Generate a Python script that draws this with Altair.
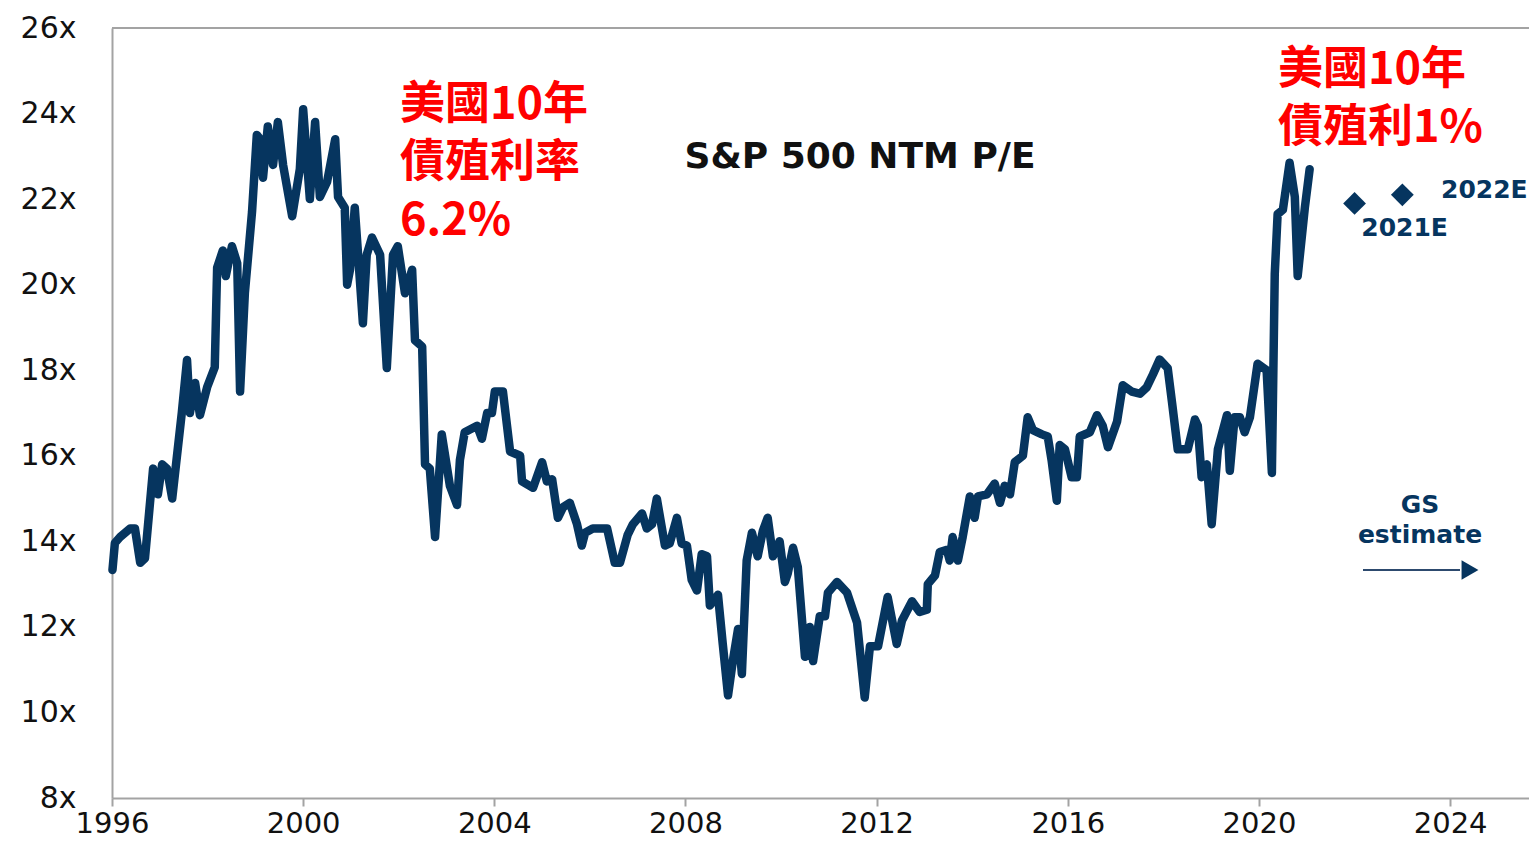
import altair as alt
import pandas as pd

# ---- data ----
years = [
    1996.01, 1996.06, 1996.17, 1996.38, 1996.48, 1996.59, 1996.69, 1996.86, 1996.96, 1997.05,
    1997.15, 1997.26, 1997.46, 1997.57, 1997.63, 1997.74, 1997.84, 1997.99, 1998.15, 1998.20,
    1998.32, 1998.38, 1998.51, 1998.62, 1998.68, 1998.78, 1998.93, 1999.03, 1999.10, 1999.16,
    1999.26, 1999.37, 1999.47, 1999.58, 1999.77, 1999.93, 2000.00, 2000.14, 2000.25, 2000.35,
    2000.50, 2000.67, 2000.73, 2000.87, 2000.92, 2000.98, 2001.08, 2001.25, 2001.33, 2001.44,
    2001.61, 2001.75, 2001.88, 2001.98, 2002.13, 2002.28, 2002.34, 2002.49, 2002.55, 2002.65,
    2002.76, 2002.90, 2003.07, 2003.22, 2003.28, 2003.38, 2003.64, 2003.74, 2003.85, 2003.95,
    2004.01, 2004.18, 2004.33, 2004.54, 2004.58, 2004.81, 2005.00, 2005.10, 2005.21, 2005.33,
    2005.44, 2005.58, 2005.73, 2005.83, 2005.90, 2006.06, 2006.36, 2006.52, 2006.63, 2006.79,
    2006.90, 2007.09, 2007.19, 2007.30, 2007.40, 2007.57, 2007.67, 2007.82, 2007.92, 2008.03,
    2008.13, 2008.24, 2008.34, 2008.45, 2008.51, 2008.68, 2008.78, 2008.89, 2008.99, 2009.10,
    2009.18, 2009.28, 2009.39, 2009.51, 2009.62, 2009.72, 2009.83, 2009.97, 2010.08, 2010.14,
    2010.25, 2010.35, 2010.50, 2010.60, 2010.67, 2010.81, 2010.92, 2010.98, 2011.17, 2011.38,
    2011.59, 2011.75, 2011.86, 2012.03, 2012.23, 2012.42, 2012.53, 2012.74, 2012.90, 2013.05,
    2013.07, 2013.22, 2013.32, 2013.47, 2013.53, 2013.59, 2013.70, 2013.80, 2013.95, 2014.05,
    2014.12, 2014.31, 2014.47, 2014.58, 2014.68, 2014.79, 2014.89, 2015.06, 2015.16, 2015.27,
    2015.46, 2015.58, 2015.66, 2015.77, 2015.83, 2015.94, 2016.08, 2016.19, 2016.25, 2016.46,
    2016.61, 2016.73, 2016.84, 2017.03, 2017.15, 2017.34, 2017.51, 2017.65, 2017.78, 2017.92,
    2018.09, 2018.18, 2018.30, 2018.51, 2018.66, 2018.72, 2018.80, 2018.91, 2019.01, 2019.14,
    2019.33, 2019.39, 2019.49, 2019.60, 2019.70, 2019.81, 2019.97, 2020.16, 2020.27, 2020.33,
    2020.39, 2020.50, 2020.64, 2020.75, 2020.81, 2020.96, 2021.06,
]
pe = [
    13.33, 13.96, 14.10, 14.30, 14.30, 13.50, 13.60, 15.70, 15.10, 15.80,
    15.70, 15.00, 17.00, 18.24, 17.00, 17.70, 16.95, 17.60, 18.07, 20.40,
    20.80, 20.20, 20.90, 20.50, 17.50, 19.80, 21.70, 23.50, 23.40, 22.50,
    23.70, 22.80, 23.80, 22.80, 21.60, 22.70, 24.10, 22.00, 23.80, 22.05,
    22.40, 23.40, 22.05, 21.80, 20.00, 20.35, 21.80, 19.10, 20.70, 21.10,
    20.70, 18.05, 20.70, 20.90, 19.80, 20.35, 18.70, 18.55, 15.80, 15.70,
    14.10, 16.50, 15.30, 14.85, 15.90, 16.55, 16.70, 16.40, 17.00, 17.00,
    17.50, 17.50, 16.10, 16.00, 15.40, 15.25, 15.85, 15.40, 15.45, 14.55,
    14.80, 14.90, 14.40, 13.90, 14.20, 14.30, 14.30, 13.50, 13.50, 14.15,
    14.40, 14.65, 14.30, 14.40, 15.00, 13.90, 13.95, 14.55, 13.95, 13.90,
    13.10, 12.85, 13.70, 13.65, 12.50, 12.75, 11.60, 10.40, 11.20, 11.95,
    10.90, 13.55, 14.20, 13.65, 14.25, 14.55, 13.65, 14.00, 13.05, 13.25,
    13.85, 13.40, 11.30, 12.00, 11.20, 12.25, 12.25, 12.80, 13.05, 12.80,
    12.10, 10.35, 11.55, 11.55, 12.70, 11.60, 12.15, 12.60, 12.35, 12.40,
    13.00, 13.20, 13.75, 13.80, 13.55, 14.10, 13.55, 14.10, 15.05, 14.55,
    15.05, 15.10, 15.35, 14.90, 15.30, 15.10, 15.85, 16.00, 16.90, 16.60,
    16.50, 16.45, 15.90, 14.95, 16.25, 16.15, 15.50, 15.50, 16.45, 16.55,
    16.95, 16.70, 16.20, 16.80, 17.65, 17.50, 17.45, 17.60, 17.90, 18.25,
    18.05, 17.25, 16.15, 16.15, 16.85, 16.70, 15.50, 15.80, 14.40, 16.15,
    16.95, 15.65, 16.90, 16.90, 16.55, 16.90, 18.15, 18.00, 15.60, 20.25,
    21.65, 21.75, 22.85, 22.05, 20.20, 21.80, 22.70,
]

est_years = [2022.0, 2023.0]
est_pe = [21.9, 22.1]
est_labels = ["2021E", "2022E"]

x_ticks = [1996, 2000, 2004, 2008, 2012, 2016, 2020, 2024]
y_ticks = [8, 10, 12, 14, 16, 18, 20, 22, 24, 26]

title_text = "S&P 500 NTM P/E"
left_note = ["美國10年", "債殖利率", "6.2%"]
right_note = ["美國10年", "債殖利1%"]
gs_note = ["GS", "estimate"]

# ---- styling ----
NAVY = "#06355f"
RED = "#ff0000"
GRAY = "#a3a3a3"
W, H = 1417, 770
CJK = "Noto Sans CJK TC"
LAT = "DejaVu Sans"

df = pd.DataFrame({"year": years, "pe": pe})
est = pd.DataFrame({"year": est_years, "pe": est_pe, "label": est_labels})

xscale = alt.Scale(domain=[1996, 2025.65], nice=False, zero=False)
yscale = alt.Scale(domain=[8, 26], nice=False, zero=False)

xaxis = alt.Axis(values=x_ticks, format="d", title=None, grid=False,
                 labelFontSize=29, labelFont=LAT, labelColor="#111",
                 labelPadding=3, tickSize=8, tickWidth=2, tickColor=GRAY,
                 domainColor=GRAY, domainWidth=2, labelFlush=False)
yaxis = alt.Axis(values=y_ticks, labelExpr="datum.value + 'x'", title=None, grid=False,
                 labelFontSize=30, labelFont=LAT, labelColor="#111",
                 labelPadding=36, tickSize=0, ticks=False,
                 domainColor=GRAY, domainWidth=2)

base = alt.Chart(df)

top_border = base.mark_rule(color=GRAY, strokeWidth=2).encode(
    x=alt.value(0), x2=alt.value(W), y=alt.value(0))

line = base.mark_line(color=NAVY, strokeWidth=8.5, strokeJoin="round", strokeCap="round").encode(
    x=alt.X("year:Q", scale=xscale, axis=xaxis),
    y=alt.Y("pe:Q", scale=yscale, axis=yaxis),
)

est_base = alt.Chart(est)
diamonds = est_base.mark_point(shape="diamond", filled=True, size=520, color=NAVY, opacity=1).encode(
    x=alt.X("year:Q", scale=xscale), y=alt.Y("pe:Q", scale=yscale))

lbl_2021 = est_base.transform_filter(alt.datum.label == "2021E").mark_text(
    font=LAT, fontWeight="bold", fontSize=25, color=NAVY, dx=50, dy=25).encode(
    x=alt.X("year:Q", scale=xscale), y=alt.Y("pe:Q", scale=yscale), text="label:N")
lbl_2022 = est_base.transform_filter(alt.datum.label == "2022E").mark_text(
    font=LAT, fontWeight="bold", fontSize=25, color=NAVY, dx=82, dy=-5).encode(
    x=alt.X("year:Q", scale=xscale), y=alt.Y("pe:Q", scale=yscale), text="label:N")


def txt(lines, x, y, size, color, font, align="left", line_h=None):
    s = "\n".join(lines) if isinstance(lines, list) else lines
    kw = dict(font=font, fontSize=size, fontWeight="bold", color=color, align=align,
              baseline="middle", lineBreak="\n")
    if line_h:
        kw["lineHeight"] = line_h
    return alt.Chart(pd.DataFrame({"t": [s]})).mark_text(**kw).encode(
        x=alt.value(x), y=alt.value(y), text="t:N")


layers = [top_border, line, diamonds, lbl_2021, lbl_2022]
layers.append(txt(title_text, 748, 129, 36, "#111", LAT, align="center"))
layers.append(txt(left_note, 288, 77, 45, RED, CJK, line_h=58))
layers.append(txt(right_note, 1166, 42, 45, RED, CJK, line_h=58))
layers.append(txt(gs_note, 1308, 477, 25, NAVY, LAT, align="center", line_h=30))

arrow_line = alt.Chart(pd.DataFrame({"a": [0]})).mark_rule(color="#2d4a6e", strokeWidth=2).encode(
    x=alt.value(1251), x2=alt.value(1348), y=alt.value(542))
arrow_head = alt.Chart(pd.DataFrame({"a": [0]})).mark_point(
    shape="triangle-right", filled=True, size=380, color=NAVY, opacity=1).encode(
    x=alt.value(1358), y=alt.value(542))
layers += [arrow_line, arrow_head]

chart = alt.layer(*layers).properties(
    width=W, height=H,
    autosize=alt.AutoSizeParams(type="none"),
    padding={"left": 104, "top": 20, "right": 0, "bottom": 41},
).configure_view(stroke=None).configure(background="white")

chart.save("out.html", embed_options={"renderer": "svg", "actions": False})
